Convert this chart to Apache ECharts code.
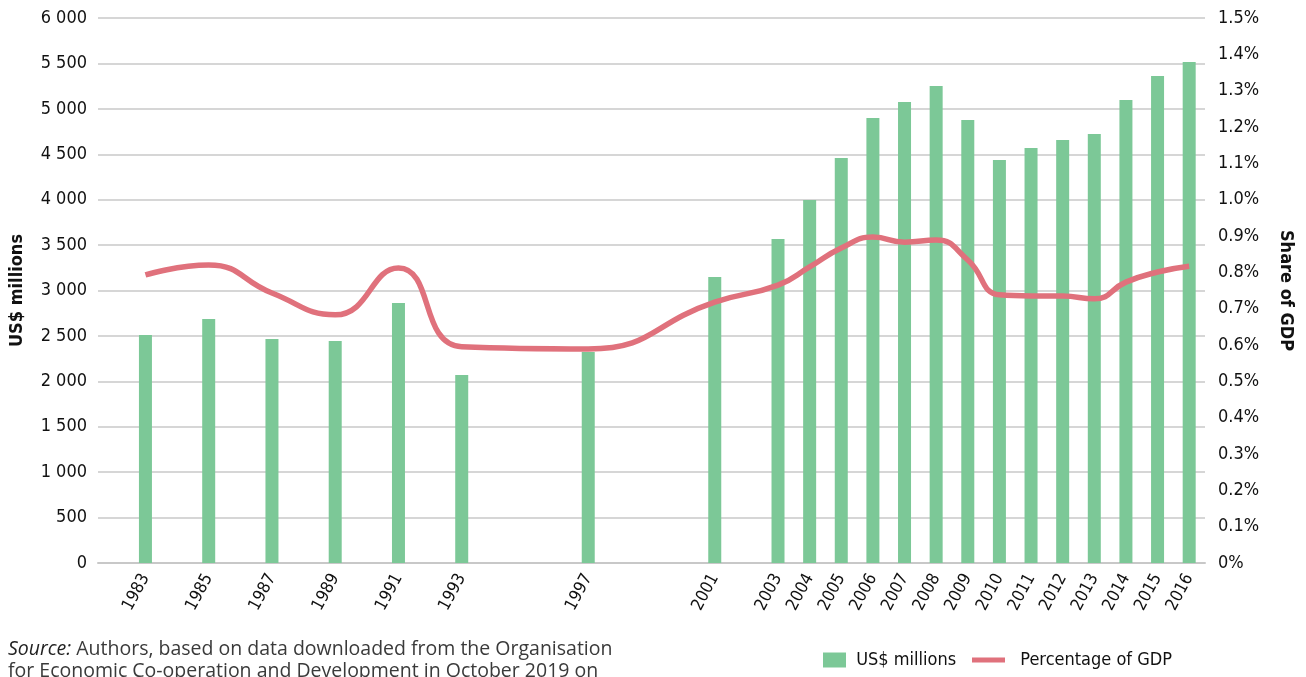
<!DOCTYPE html>
<html>
<head>
<meta charset="utf-8">
<script src="https://cdn.jsdelivr.net/npm/echarts@6/dist/echarts.min.js"></script>
<style>
  html, body { margin: 0; padding: 0; background: #fff; }
  #chart { width: 1306px; height: 677px; }
</style>
</head>
<body>
<div id="chart"></div>
<script>
const years = [1983, 1985, 1987, 1989, 1991, 1993, 1997, 2001, 2003, 2004, 2005, 2006, 2007, 2008, 2009, 2010, 2011, 2012, 2013, 2014, 2015, 2016];
const usdMillions = [2510, 2686, 2466, 2444, 2862, 2070, 2323, 3149, 3567, 3996, 4459, 4899, 5075, 5251, 4877, 4437, 4569, 4657, 4723, 5097, 5361, 5516];
const shareOfGdp = [0.793, 0.820, 0.743, 0.683, 0.812, 0.595, 0.589, 0.718, 0.765, 0.815, 0.867, 0.897, 0.883, 0.889, 0.834, 0.738, 0.735, 0.735, 0.727, 0.773, 0.801, 0.817];

// narrowest face we have; font-stretch passed via fontStyle
const font = '"DejaVu Sans", sans-serif';
const narrow = 'condensed';
const green = '#7cc897';
const red = '#e0717c';

const chart = echarts.init(document.getElementById('chart'));

const legendText = { fontFamily: font, fontStyle: narrow, fontSize: 18, color: '#111' };

const option = {
  animation: false,
  textStyle: { fontFamily: font, color: '#111' },
  grid: { left: 98, right: 101, top: 18, bottom: 114, outerBoundsMode: 'none' },
  legend: [
    {
      left: 823,
      top: 651,
      padding: 0,
      itemWidth: 23,
      itemHeight: 15,
      textStyle: legendText,
      formatter: name => ' ' + name,
      data: [{ name: 'US$ millions', icon: 'rect' }]
    },
    {
      left: 972,
      top: 651,
      padding: 0,
      itemWidth: 33,
      itemHeight: 15,
      textStyle: legendText,
      formatter: name => '  ' + name,
      data: [{ name: 'Percentage of GDP', icon: 'path://M0,0H33V5H0Z' }]
    }
  ],
  xAxis: {
    type: 'value',
    min: 1981.5,
    max: 2016.5,
    splitLine: { show: false },
    axisTick: { show: false },
    axisLine: { show: true, lineStyle: { color: '#c8c8c8', width: 2 } },
    axisLabel: {
      customValues: years,
      rotate: 62,
      margin: 12,
      fontSize: 17,
      color: '#111',
      fontFamily: font,
      fontStyle: narrow,
      formatter: v => String(v)
    }
  },
  yAxis: [
    {
      type: 'value',
      min: 0,
      max: 6000,
      interval: 500,
      name: 'US$ millions',
      nameLocation: 'middle',
      nameGap: 72,
      nameTextStyle: { fontFamily: font, fontStyle: narrow, fontSize: 18, fontWeight: 'bold', color: '#111' },
      axisLine: { show: false },
      axisTick: { show: false },
      splitLine: { lineStyle: { color: '#c8c8c8', width: 1.5 } },
      axisLabel: {
        fontSize: 18,
        margin: 11,
        color: '#111',
        fontFamily: font,
        fontStyle: narrow,
        formatter: v => String(v).replace(/\B(?=(\d{3})+(?!\d))/g, ' ')
      }
    },
    {
      type: 'value',
      min: 0,
      max: 1.5,
      interval: 0.1,
      position: 'right',
      name: 'Share of GDP',
      nameLocation: 'middle',
      nameRotate: -90,
      nameGap: 72,
      nameTextStyle: { fontFamily: font, fontStyle: narrow, fontSize: 18, fontWeight: 'bold', color: '#111' },
      axisLine: { show: false },
      axisTick: { show: false },
      splitLine: { show: false },
      axisLabel: {
        fontSize: 18,
        margin: 13,
        color: '#111',
        fontFamily: font,
        fontStyle: narrow,
        formatter: v => (v === 0 ? '0%' : v.toFixed(1) + '%')
      }
    }
  ],
  series: [
    {
      name: 'US$ millions',
      type: 'bar',
      barWidth: 13,
      itemStyle: { color: green },
      data: years.map((y, i) => [y, usdMillions[i]])
    },
    {
      name: 'Percentage of GDP',
      type: 'line',
      yAxisIndex: 1,
      smooth: 0.5,
      symbol: 'none',
      lineStyle: { color: red, width: 5.5 },
      itemStyle: { color: red },
      data: years.map((y, i) => [y, shareOfGdp[i]])
    }
  ],
  graphic: [
    {
      type: 'text',
      left: 8,
      top: 639,
      style: {
        text: '{b|Source:} Authors, based on data downloaded from the Organisation',
        font: '19.5px "Open Sans", sans-serif',
        fill: '#3a3a3a',
        rich: {
          b: { fontStyle: 'italic', fontFamily: '"Open Sans", sans-serif', fontSize: 19.5, fill: '#222' }
        }
      }
    },
    {
      type: 'text',
      left: 8,
      top: 661,
      style: {
        text: 'for Economic Co-operation and Development in October 2019 on',
        font: '19.5px "Open Sans", sans-serif',
        fill: '#3a3a3a'
      }
    }
  ]
};

chart.setOption(option);
</script>
</body>
</html>
